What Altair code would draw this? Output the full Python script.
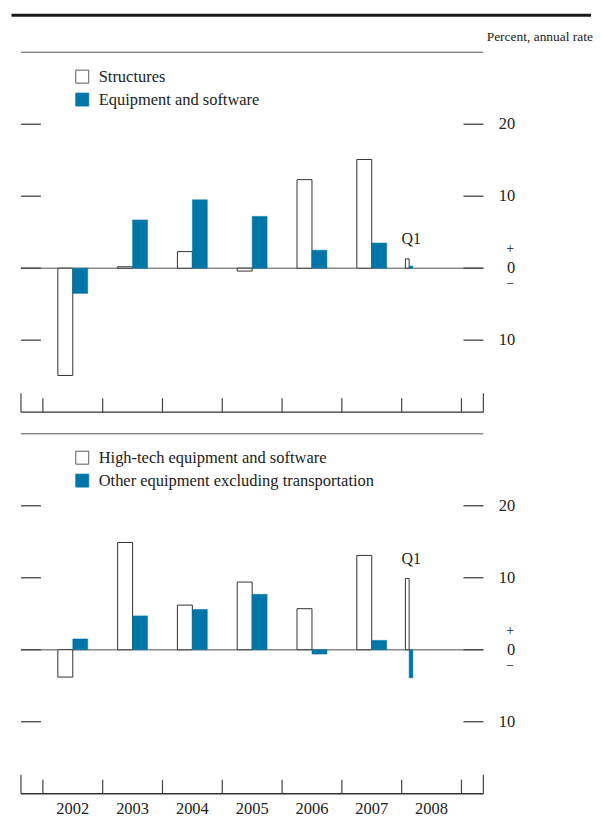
import altair as alt
import pandas as pd

# ---- data ----
periods = ["2002", "2003", "2004", "2005", "2006", "2007", "2008 Q1"]
period_start = [2002, 2003, 2004, 2005, 2006, 2007, 2008]
period_length = [1, 1, 1, 1, 1, 1, 0.25]

top_series = ["Structures", "Equipment and software"]
structures = [-14.9, 0.2, 2.3, -0.4, 12.3, 15.1, 1.3]
equipment = [-3.5, 6.7, 9.5, 7.2, 2.5, 3.5, 0.3]

bot_series = ["High-tech equipment and software", "Other equipment excluding transportation"]
hightech = [-3.8, 14.9, 6.2, 9.4, 5.7, 13.1, 9.9]
other_equip = [1.5, 4.7, 5.6, 7.7, -0.6, 1.3, -3.9]

year_labels = ["2002", "2003", "2004", "2005", "2006", "2007", "2008"]
year_bounds = [2002, 2003, 2004, 2005, 2006, 2007, 2008, 2009]
tick_values = [20, 10, 0, -10]
tick_labels = ["20", "10", "0", "10"]

# ---- layout constants ----
BLUE = "#0075a8"
DARK = "#333333"
TXT = "#222222"
FONT = "Liberation Serif"
PXX = 60.0                      # px per year
XDOM = [2002 - 22 / PXX, 2002 + 442 / PXX]
W = 464
PANEL_LO, PANEL_HI = -20, 30
OFF = 53.0                      # vertical shift (in value units) of lower panel
YDOM = [PANEL_LO - OFF, PANEL_HI]
H = 744
PXY = H / (YDOM[1] - YDOM[0])   # px per value unit

xs = alt.Scale(domain=XDOM, nice=False, zero=False)
ys = alt.Scale(domain=YDOM, nice=False, zero=False)


def X(f):
    return alt.X(f, type="quantitative", scale=xs, axis=None)


def Y(f):
    return alt.Y(f, type="quantitative", scale=ys, axis=None)


def px_x(p):
    return XDOM[0] + p / PXX


def px_y(p, off):
    return PANEL_HI + off - p / PXY


def bars_df(vals, which, off):
    rows = []
    for p, s, L, v in zip(periods, period_start, period_length, vals):
        c = s + L / 2
        w = L / 4
        x0, x1 = (c - w, c) if which == 0 else (c, c + w)
        rows.append(dict(period=p, y=v + off, y0=off, x0=x0, x1=x1))
    return pd.DataFrame(rows)


def panel_layers(a, b, names, off, leg_top):
    L = []
    L.append(alt.Chart(pd.DataFrame({"x0": [XDOM[0]], "x1": [XDOM[1]], "y": [off]}))
             .mark_rule(color="#8a8a8a", strokeWidth=1.6)
             .encode(x=X("x0"), x2="x1", y=Y("y")))
    L.append(alt.Chart(bars_df(a, 0, off)).mark_bar(fill="white", stroke=DARK, strokeWidth=1)
             .encode(x=X("x0"), x2="x1", y=Y("y"), y2="y0"))
    L.append(alt.Chart(bars_df(b, 1, off)).mark_bar(fill=BLUE, stroke=BLUE, strokeWidth=0.5)
             .encode(x=X("x0"), x2="x1", y=Y("y"), y2="y0"))

    tdf = pd.DataFrame({
        "y": [v + off for v in tick_values], "lab": tick_labels,
        "l0": [XDOM[0]] * 4, "l1": [px_x(20)] * 4,
        "r0": [px_x(W - 20)] * 4, "r1": [XDOM[1]] * 4,
        "lx": [px_x(W + 32)] * 4,
    })
    L.append(alt.Chart(tdf).mark_rule(color="#444", strokeWidth=1.3)
             .encode(x=X("l0"), x2="l1", y=Y("y")))
    L.append(alt.Chart(tdf).mark_rule(color="#444", strokeWidth=1.3)
             .encode(x=X("r0"), x2="r1", y=Y("y")))
    L.append(alt.Chart(tdf).mark_text(align="right", baseline="middle", font=FONT,
                                      fontSize=16.5, color=TXT)
             .encode(x=X("lx"), y=Y("y"), text="lab:N"))
    pmdf = pd.DataFrame({"x": [px_x(W + 27)], "y": [off], "p": ["+"], "m": ["\u2212"]})
    L.append(alt.Chart(pmdf).mark_text(align="center", baseline="middle", font=FONT,
                                       fontSize=14, color=TXT, dy=-19)
             .encode(x=X("x"), y=Y("y"), text="p:N"))
    L.append(alt.Chart(pmdf).mark_text(align="center", baseline="middle", font=FONT,
                                       fontSize=14, color=TXT, dy=16)
             .encode(x=X("x"), y=Y("y"), text="m:N"))

    fdf = pd.DataFrame({"x0": [XDOM[0]], "x1": [XDOM[1]],
                        "top": [PANEL_HI + off], "bot": [PANEL_LO + off]})
    L.append(alt.Chart(fdf).mark_rule(color="#555", strokeWidth=1)
             .encode(x=X("x0"), x2="x1", y=Y("top")))
    L.append(alt.Chart(fdf).mark_rule(color="#333", strokeWidth=1.4)
             .encode(x=X("x0"), x2="x1", y=Y("bot")))

    ydf = pd.DataFrame({"b": year_bounds, "y0": [PANEL_LO + off] * 8,
                        "y1": [PANEL_LO + off + 14 / PXY] * 8})
    L.append(alt.Chart(ydf).mark_rule(color="#444", strokeWidth=1.2)
             .encode(x=X("b"), y=Y("y0"), y2="y1"))
    edf = pd.DataFrame({"b": XDOM, "y0": [PANEL_LO + off] * 2,
                        "y1": [PANEL_LO + off + 19 / PXY] * 2})
    L.append(alt.Chart(edf).mark_rule(color="#444", strokeWidth=1.2)
             .encode(x=X("b"), y=Y("y0"), y2="y1"))

    qdf = pd.DataFrame({"x": [period_start[-1] + period_length[-1] / 2],
                        "y": [max(a[-1], b[-1]) + off], "t": ["Q1"]})
    L.append(alt.Chart(qdf).mark_text(align="center", baseline="middle", font=FONT,
                                      fontSize=16, color=TXT, dy=-20, dx=2)
             .encode(x=X("x"), y=Y("y"), text="t:N"))

    # legend
    ldf = pd.DataFrame({"name": names, "sx": [px_x(61.5)] * 2, "tx": [px_x(78)] * 2,
                        "y": [px_y(leg_top, off), px_y(leg_top + 23, off)]})
    L.append(alt.Chart(ldf).mark_point(shape="square", size=169, filled=True, opacity=1,
                                       strokeWidth=0.8)
             .encode(x=X("sx"), y=Y("y"),
                     fill=alt.Fill("name:N", scale=alt.Scale(domain=names, range=["white", BLUE]),
                                   legend=None),
                     stroke=alt.Stroke("name:N", scale=alt.Scale(domain=names, range=[DARK, BLUE]),
                                       legend=None)))
    L.append(alt.Chart(ldf).mark_text(align="left", baseline="middle", font=FONT,
                                      fontSize=16.5, color=TXT)
             .encode(x=X("tx"), y=Y("y"), text="name:N"))
    return L


layers = []
layers += panel_layers(structures, equipment, top_series, 0.0, 24.5)
layers += panel_layers(hightech, other_equip, bot_series, -OFF, 24)

# year labels under lower panel
lab_df = pd.DataFrame({"x": [s + 0.5 for s in year_bounds[:-1]],
                       "y": [PANEL_LO - OFF] * 7, "t": year_labels})
layers.append(alt.Chart(lab_df).mark_text(align="center", baseline="middle", font=FONT,
                                          fontSize=16.5, color=TXT, dy=15)
              .encode(x=X("x"), y=Y("y"), text="t:N"))

# header rule and unit label
hdf = pd.DataFrame({"x0": [px_x(-9.5)], "x1": [px_x(572)], "y": [px_y(-37, 0)],
                    "tx": [px_x(574)], "ty": [px_y(-15.5, 0)], "t": ["Percent, annual rate"]})
layers.append(alt.Chart(hdf).mark_rule(color="#1a1a1a", strokeWidth=3)
              .encode(x=X("x0"), x2="x1", y=Y("y")))
layers.append(alt.Chart(hdf).mark_text(align="right", baseline="middle", font=FONT,
                                       fontSize=13.5, color=TXT)
              .encode(x=X("tx"), y=Y("ty"), text="t:N"))

chart = alt.layer(*layers).resolve_scale(fill="independent", stroke="independent").properties(
    width=W, height=H, background="white",
    padding={"left": 2, "top": 4, "right": 0, "bottom": 0},
).configure_view(strokeWidth=0)

chart.save("out.html", embed_options={"renderer": "svg", "actions": False})
